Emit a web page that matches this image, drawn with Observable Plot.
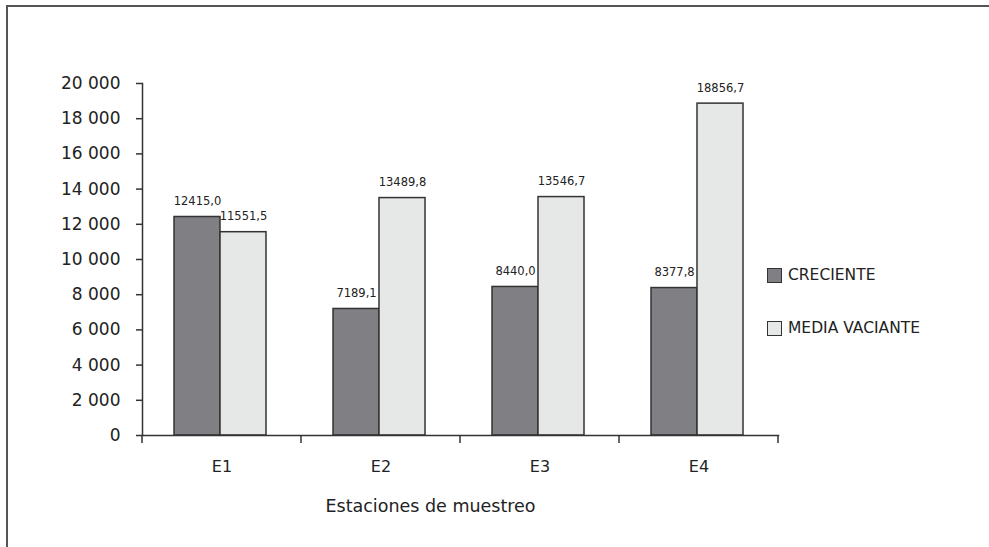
<!DOCTYPE html>
<html>
<head>
<meta charset="utf-8">
<script src="https://cdn.jsdelivr.net/npm/d3@7"></script>
<script src="https://cdn.jsdelivr.net/npm/@observablehq/plot@0.6"></script>
<style>
  html, body { margin: 0; padding: 0; background: #fff; overflow: hidden; }
  #wrap { position: relative; width: 989px; height: 547px; overflow: hidden; font-family: "DejaVu Sans", sans-serif; color: #222; }
  #chart { position: absolute; left: 0; top: 0; }
  .legend { position: absolute; left: 767px; top: 0; font-size: 15.5px; color: #222; }
  .legend .item { position: absolute; left: 0; white-space: nowrap; display: flex; align-items: center; }
  .legend .sw { width: 13px; height: 13px; border: 1px solid #333; margin-right: 6px; }
</style>
</head>
<body>
<div id="wrap">
  <div id="chart"></div>
  <div class="legend" id="legend"></div>
</div>
<script>
const stations = ["E1", "E2", "E3", "E4"];
const seriesNames = ["CRECIENTE", "MEDIA VACIANTE"];
const creciente = [12415.0, 7189.1, 8440.0, 8377.8];
const mediaVaciante = [11551.5, 13489.8, 13546.7, 18856.7];
const seriesColors = ["#808084", "#e6e8e8"];
const yTicks = [0, 2000, 4000, 6000, 8000, 10000, 12000, 14000, 16000, 18000, 20000];
const xTitle = "Estaciones de muestreo";

const data = [];
stations.forEach((s, i) => {
  data.push({station: s, series: seriesNames[0], value: creciente[i]});
  data.push({station: s, series: seriesNames[1], value: mediaVaciante[i]});
});

const thousands = d => d3.format(",")(d).replace(/,/g, " ");
const dec = d => d3.format(".1f")(d).replace(".", ",");

const W = 989, H = 547;
const mL = 140, mR = 210, mT = 83, mB = 112;

const plot = Plot.plot({
  width: W,
  height: H,
  marginLeft: mL,
  marginRight: mR,
  marginTop: mT,
  marginBottom: mB,
  style: {fontFamily: "DejaVu Sans, sans-serif", color: "#222", background: "transparent"},
  fx: {domain: stations, padding: 0, paddingInner: 0, paddingOuter: 0},
  x: {domain: seriesNames, paddingInner: 0, paddingOuter: 0.7, align: 0.48},
  y: {domain: [0, 20000]},
  color: {domain: seriesNames, range: seriesColors},
  marks: [
    Plot.axisY({ticks: yTicks, tickFormat: thousands, tickSize: 6, tickPadding: 16, fontSize: 17, label: null, stroke: "#333", strokeWidth: 1.5}),
    Plot.axisFx({anchor: "bottom", tickSize: 0, tickPadding: 25, fontSize: 16, label: null}),
    Plot.axisX({ticks: [], label: null}),
    Plot.barY(data, {fx: "station", x: "series", y: "value", fill: "series", stroke: "#333", strokeWidth: 1.5}),
    Plot.text(data, {fx: "station", x: "series", y: "value", text: d => dec(d.value), lineAnchor: "bottom", dy: -12, fontSize: 11.5, fill: "#222"}),
    Plot.frame({anchor: "left", stroke: "#333", strokeWidth: 1.5, facet: "super"}),
    Plot.frame({anchor: "bottom", stroke: "#333", strokeWidth: 1.5, facet: "super"}),
    Plot.text([xTitle], {text: d => d, frameAnchor: "bottom", dy: 76, dx: -30, fontSize: 17.5, fill: "#222", facet: "super"})
  ]
});

// boundary ticks on the category axis, positioned with Plot's fx scale
const fx = plot.scale("fx");
const yScale = plot.scale("y");
const y0 = yScale.apply(0);
const svgEl = plot.tagName.toLowerCase() === "svg" ? plot : plot.querySelector("svg");
const svg = d3.select(svgEl);
const bounds = stations.map(s => fx.apply(s)).concat([fx.apply(stations[stations.length - 1]) + fx.bandwidth]);
svg.append("g")
  .attr("stroke", "#333")
  .attr("stroke-width", 1.5)
  .selectAll("line")
  .data(bounds)
  .join("line")
  .attr("x1", d => d).attr("x2", d => d)
  .attr("y1", y0).attr("y2", y0 + 8);

// outer chart-area frame (only left and top edges are visible in the crop)
svg.append("path")
  .attr("d", `M7,${H} V6 H${W + 10}`)
  .attr("fill", "none")
  .attr("stroke", "#555")
  .attr("stroke-width", 2);

document.getElementById("chart").appendChild(plot);

const legend = document.getElementById("legend");
const legendTops = [266, 319];
seriesNames.forEach((name, i) => {
  const item = document.createElement("div");
  item.className = "item";
  item.style.top = legendTops[i] + "px";
  const sw = document.createElement("div");
  sw.className = "sw";
  sw.style.background = seriesColors[i];
  item.appendChild(sw);
  item.appendChild(document.createTextNode(name));
  legend.appendChild(item);
});
</script>
</body>
</html>
